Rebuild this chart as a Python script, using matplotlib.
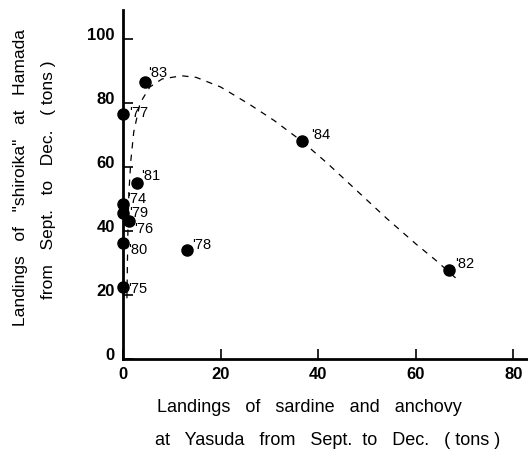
"""
shiroika landings vs sardine/anchovy landings, Sept.-Dec.
"""

import matplotlib.pyplot as plt
from matplotlib import transforms

plt.rcParams['font.family'] = ['Liberation Sans', 'DejaVu Sans']

# yearly points (Sept.-Dec.)
years = ["'74", "'75", "'76", "'77", "'78", "'79", "'80", "'81", "'82", "'83", "'84"]
sardine = [0.0, 0.0, 1.3, 0.0, 13.1, 0.0, 0.0, 2.8, 66.9, 4.6, 36.7]
shiroika = [48.6, 22.6, 43.1, 76.6, 34.0, 45.5, 36.2, 54.9, 27.8, 86.6, 68.0]

# label offsets in pixels (dx, dy) for each year
label_dx = [4, 5, 5, 6, 5, 6, 5, 4, 6, 3, 9]
label_dy = [5, -2, -8, 1, 5, 0, -7, 7, 6, 9, 6]

# hand-drawn trend curve, read point by point
curve_x = [0.8, 0.9, 1.0, 1.2, 1.6, 2.2, 3.5, 5.5, 8.0, 12.0, 15.0, 20.0,
           26.0, 31.0, 36.7, 42.0, 48.0, 54.0, 60.0, 64.0, 68.8]
curve_y = [19.0, 30.0, 40.0, 52.0, 62.0, 71.0, 80.0, 85.0, 87.5, 88.5, 88.0, 85.0,
           79.5, 74.5, 68.0, 61.0, 52.5, 44.0, 36.0, 31.0, 24.5]

xticks = [0, 20, 40, 60, 80]
yticks = [0, 20, 40, 60, 80, 100]

fig = plt.figure(figsize=(5.28, 4.61), dpi=100)
ax = fig.add_axes([0.233, 0.221, 0.767, 0.757])

ax.plot(curve_x, curve_y, color='black', lw=0.9, dashes=(5, 5))
ax.plot(sardine, shiroika, 'o', color='black', markersize=8, clip_on=False, zorder=3)

for name, x, y, dx, dy in zip(years, sardine, shiroika, label_dx, label_dy):
    ax.annotate(name, (x, y), xytext=(dx, dy), textcoords='offset pixels',
                ha='left', va='center', fontsize=10.5)

ax.set_xlim(0, 83)
ax.set_ylim(0, 109)
ax.set_xticks(xticks)
ax.set_yticks(yticks)

for side in ['top', 'right']:
    ax.spines[side].set_visible(False)
for side in ['left', 'bottom']:
    ax.spines[side].set_linewidth(2)

ax.tick_params(axis='both', direction='in', length=7, width=1.2,
               labelsize=12, pad=6)
for lab in ax.get_xticklabels() + ax.get_yticklabels():
    lab.set_fontweight('bold')

# y numbers sit a little above their ticks
lift = transforms.ScaledTranslation(0, 0.05, fig.dpi_scale_trans)
for lab in ax.get_yticklabels():
    lab.set_transform(lab.get_transform() + lift)

fig.text(0.038, 0.614, 'Landings   of   "shiroika"   at   Hamada',
         rotation=90, ha='center', va='center', fontsize=12.5)
fig.text(0.091, 0.610, 'from   Sept.   to   Dec.   ( tons )',
         rotation=90, ha='center', va='center', fontsize=12.5)

fig.text(0.297, 0.115, 'Landings   of   sardine   and   anchovy',
         ha='left', va='center', fontsize=13)
fig.text(0.294, 0.045, 'at   Yasuda   from   Sept.  to   Dec.   ( tons )',
         ha='left', va='center', fontsize=13)

fig.savefig('out.png', dpi=100)
plt.close(fig)
